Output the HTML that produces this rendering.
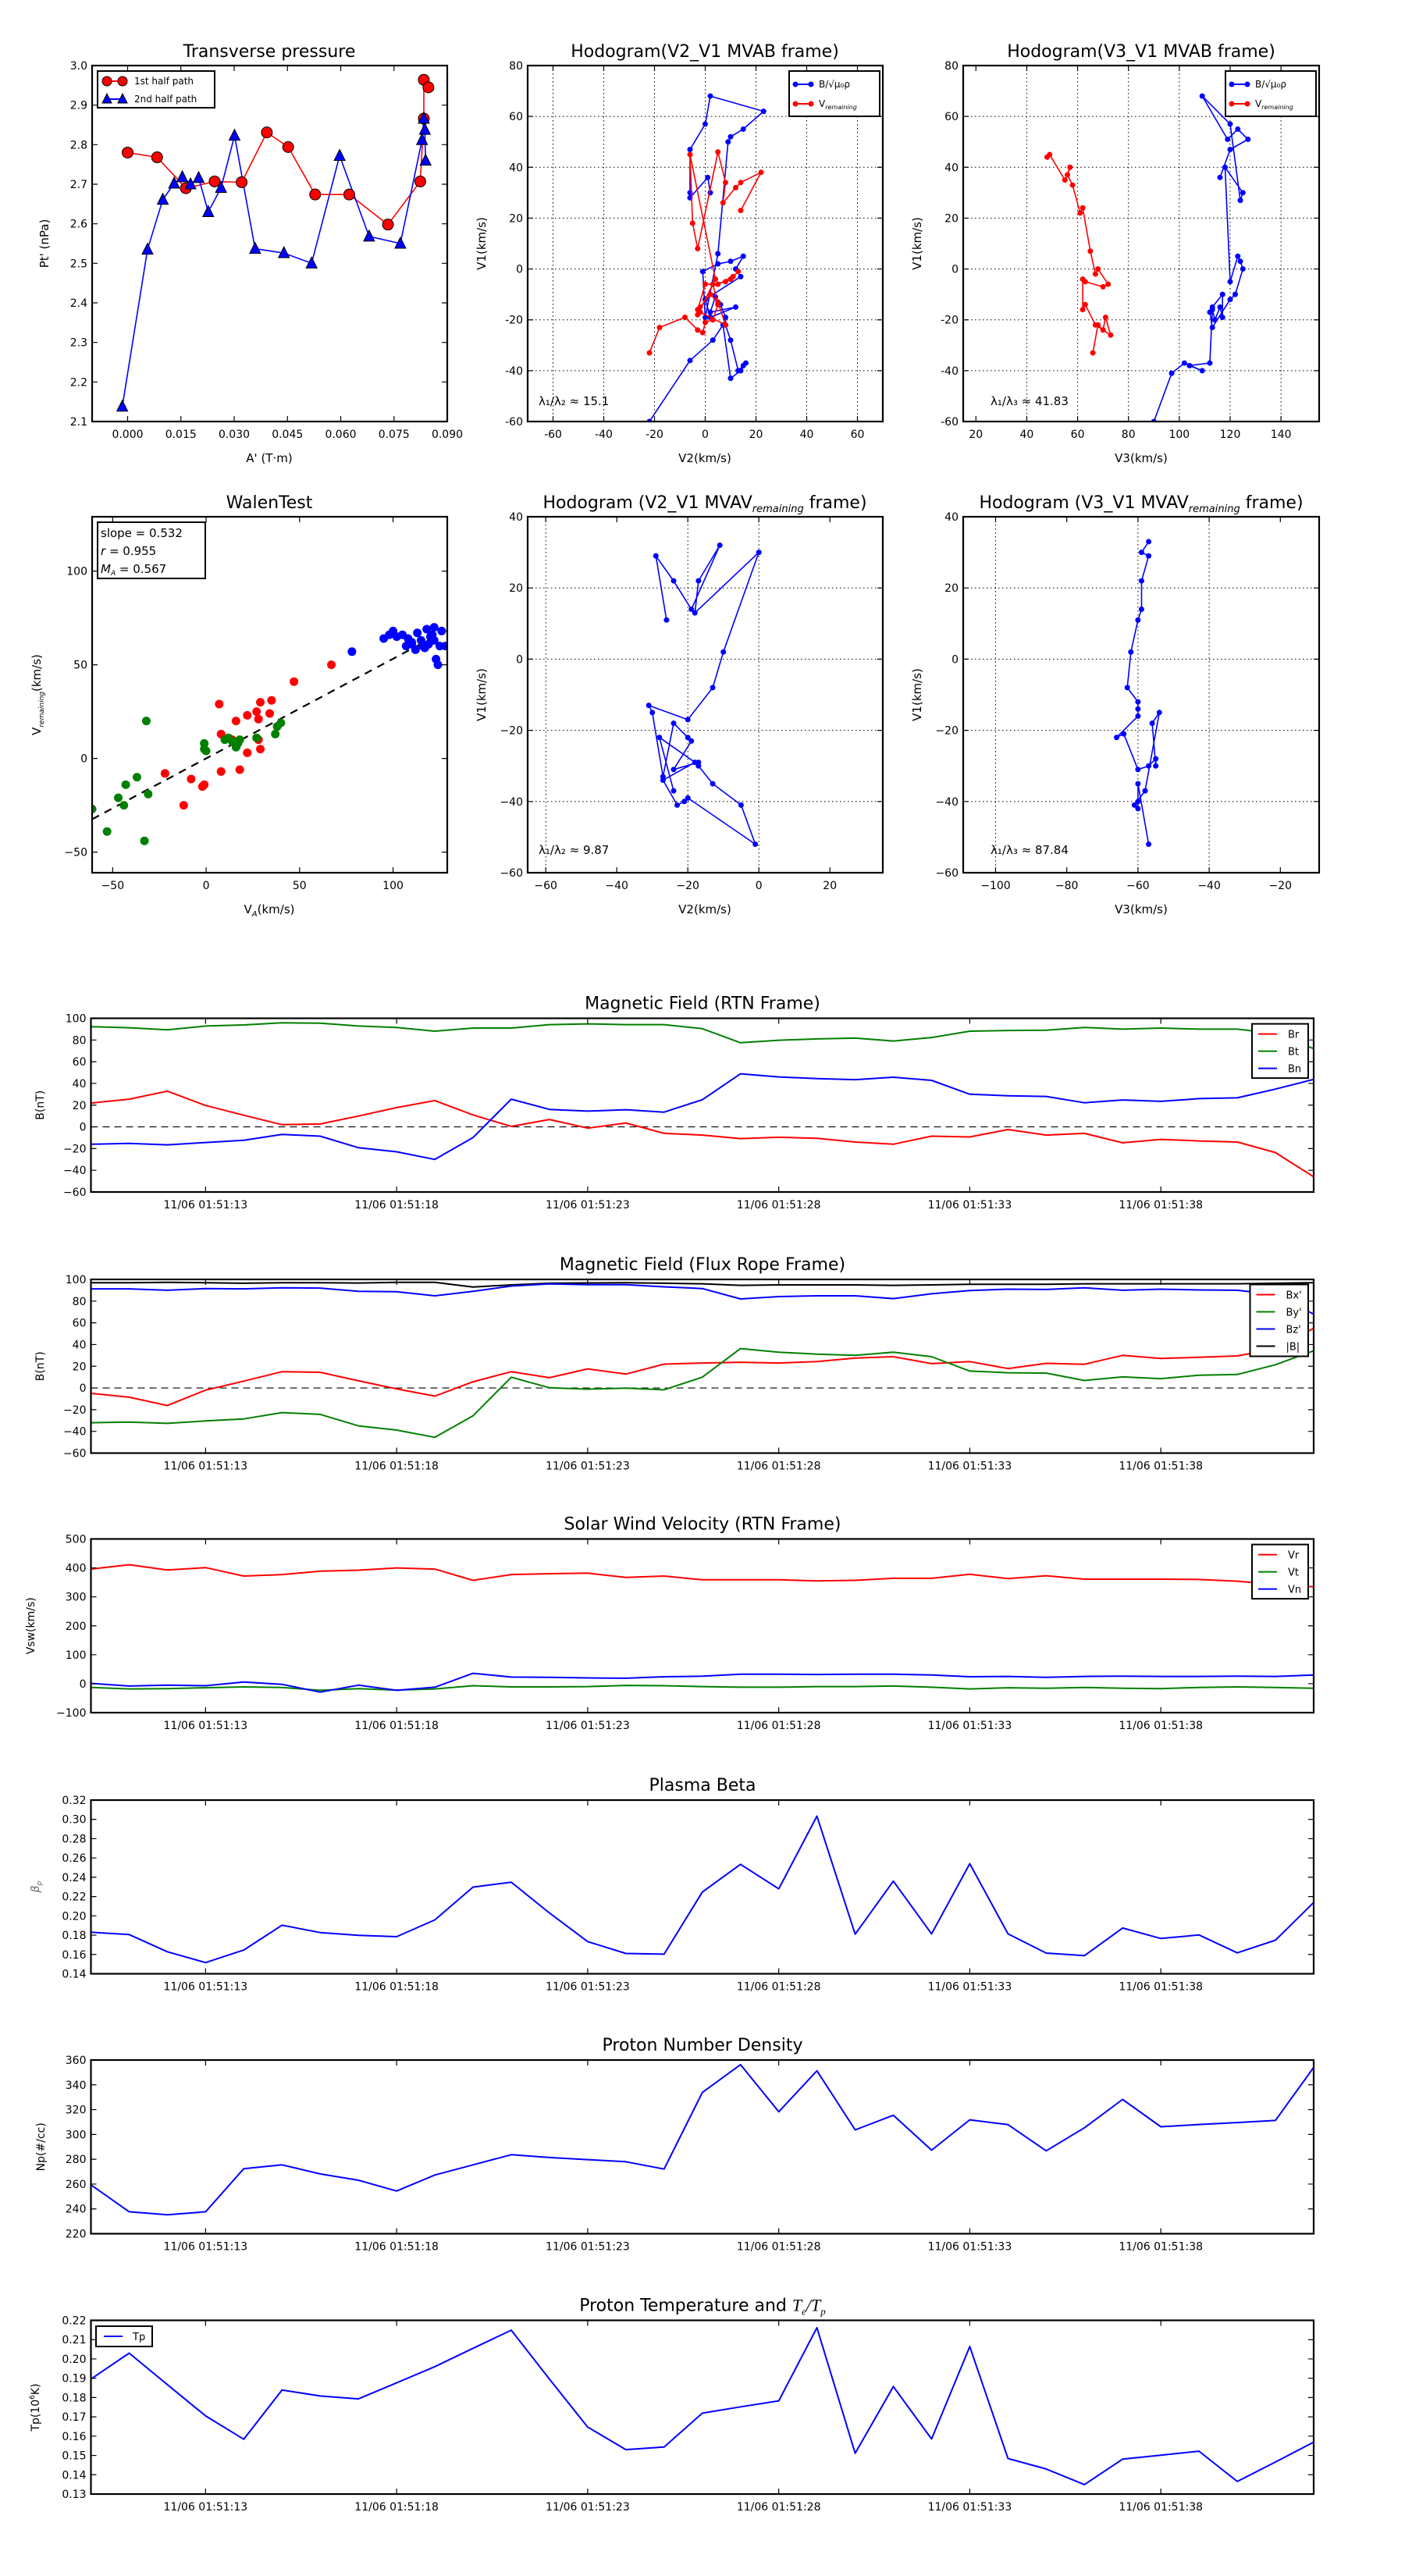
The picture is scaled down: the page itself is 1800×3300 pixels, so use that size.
<!DOCTYPE html>
<html><head><meta charset="utf-8"><title>Flux rope analysis</title>
<style>
html,body{margin:0;padding:0;background:#fff;}
svg{display:block;font-family:"DejaVu Sans","Liberation Sans",sans-serif;}
</style></head>
<body>
<svg id="fig" width="1800" height="3300" viewBox="0 0 1800 3300" xmlns="http://www.w3.org/2000/svg"></svg>
<script>
// ---------- Transverse pressure ----------
const tp1A = [0,0.0083,0.0164,0.0245,0.0321,0.0392,0.0452,0.0528,0.0624,0.0733,0.0824,0.0834,0.0834,0.0847];
const tp1P = [2.780,2.768,2.690,2.707,2.705,2.831,2.794,2.674,2.674,2.598,2.707,2.866,2.964,2.945];
const tp2A = [-0.0015,0.0056,0.0099,0.0131,0.0154,0.0177,0.0200,0.0227,0.0263,0.0301,0.0359,0.0440,0.0518,0.0597,0.0680,0.0768,0.0829,0.0834,0.0837,0.0839];
const tp2P = [2.138,2.535,2.661,2.702,2.718,2.700,2.716,2.630,2.691,2.823,2.537,2.526,2.500,2.772,2.568,2.550,2.812,2.866,2.838,2.760];
const tpXTicks = [0.000,0.015,0.030,0.045,0.060,0.075,0.090];
const tpYTicks = [2.1,2.2,2.3,2.4,2.5,2.6,2.7,2.8,2.9,3.0];
// ---------- Hodogram V2-V1 MVAB ----------
const h1BV2 = [-22,-6,3,7,10,14,16,15,13,10,8,8,6,4,2,12,2,0,14,12,15,10,5,-1,0,5,9,10,15,23,2,0,-6,-6,-6,1,2];
const h1BV1 = [-60,-36,-28,-22,-43,-40,-37,-38,-40,-28,-22,-19,-14,-11,-17,-15,-19,-12,-3,0,5,3,2,-1,-19,6,50,52,55,62,68,57,47,30,28,36,30];
const h1VV2 = [-22,-18,-8,-3,-1,0,3,5,3,8,10,13,11,5,0,-3,-2,2,5,8,-2,-3,4,-6,-5,-3,5,8,7,12,14,22,14];
const h1VV1 = [-33,-23,-19,-24,-25,-21,-20,-14,-6,-5,-4,-1,-3,-6,-6,-16,-15,-10,-13,-22,-17,-18,-4,45,18,8,46,34,26,32,34,38,23];
// ---------- Hodogram V3-V1 MVAB ----------
const h2BV3 = [90,97,102,109,104,112,113,114,116,117,117,113,112,113,120,122,125,124,123,120,118,125,124,120,109,119,123,127,120,116];
const h2BV1 = [-60,-41,-37,-40,-38,-37,-16,-20,-15,-19,-10,-15,-17,-23,-12,-10,0,3,5,-5,40,30,27,57,68,51,55,51,47,36];
const h2VV3 = [66,68,70,71,73,67,63,62,62,63,70,72,68,67,65,62,61,58,56,57,55,49,48];
const h2VV1 = [-33,-22,-24,-19,-26,-22,-14,-16,-4,-5,-7,-6,0,-2,7,24,22,33,37,40,35,45,44];
// ---------- Walen test ----------
const wBlueX = [95,98,100,102,105,107,108,110,112,113,115,116,118,119,120,121,122,123,124,125,126,128,110,117,122,78];
const wBlueY = [64,66,68,65,66,60,64,62,58,67,63,60,69,61,65,66,70,53,50,60,68,60,61,59,63,57];
const wRedX = [67,47,29,35,7,27,34,22,16,28,8,28,14,29,22,8,18,-8,-2,-1,-22,-12];
const wRedY = [50,41,30,31,29,25,24,23,20,21,13,10,10,5,3,-7,-6,-11,-15,-14,-8,-25];
const wGreenX = [-1,-1,0,10,12,14,17,18,16,38,40,37,27,-32,-37,-43,-47,-44,-31,-53,-33,-61];
const wGreenY = [8,5,4,10,11,9,8,10,6,17,19,13,11,20,-10,-14,-21,-25,-19,-39,-44,-27];
const wSlope = 0.532;
// ---------- Hodogram row 2 ----------
const h3V2 = [-26,-29,-24,-19,-11,-17,-18,0,-10,-13,-20,-31,-30,-27,-24,-20,-19,-24,-17,-17,-13,-5,-1,-20,-21,-23,-27,-18,-28,-24];
const h3V1 = [11,29,22,14,32,22,13,30,2,-8,-17,-13,-15,-33,-18,-22,-23,-31,-29,-30,-35,-41,-52,-39,-40,-41,-34,-29,-22,-37];
const h4V3 = [-57,-59,-57,-59,-59,-60,-62,-63,-60,-60,-60,-66,-64,-60,-57,-55,-55,-56,-54,-58,-61,-60,-60,-60,-57];
const h4V1 = [33,30,29,22,14,11,2,-8,-12,-14,-16,-22,-21,-31,-30,-28,-30,-18,-15,-37,-41,-42,-40,-35,-52];
// ---------- Time series (1 s cadence, 01:51:10 .. 01:51:42) ----------
const tSec = [10,11,12,13,14,15,16,17,18,19,20,21,22,23,24,25,26,27,28,29,30,31,32,33,34,35,36,37,38,39,40,41,42];
const timeTicks = [13,18,23,28,33,38];
const Br = [21.9,25.5,32.9,19.7,10.7,2,2.6,10,17.7,24.2,11,0.4,6.8,-1.2,3.6,-6,-7.6,-10.8,-9.6,-10.5,-14,-16,-8.6,-9.3,-2.5,-7.6,-6,-14.7,-11.5,-13,-14,-23.7,-46];
const Bt = [92.3,91.3,89.4,92.9,93.9,95.8,95.5,92.9,91.6,88.1,91,91,94.2,94.9,94.2,94.2,90.4,77.5,79.8,81,81.7,79.1,82.3,88.1,88.8,89.1,91.6,90,91,90,90,86,72];
const Bn = [-16,-15.3,-16.6,-14.4,-12.4,-7,-8.6,-19.2,-23,-30,-9.9,25.5,16.1,14.5,15.8,13.6,25,48.9,46,44.4,43.5,45.7,42.8,30,28.7,28,22.2,24.8,23.5,26,26.7,34.8,43.8];
const Bx = [-5,-8.5,-16.2,-2,6.3,15,14.4,6.6,-0.8,-7.5,5.7,15,9.5,17.6,12.8,22,23,23.7,23,24.3,27.6,28.8,22.4,24.3,17.9,22.7,21.8,30,27.2,28.2,29.5,36,55];
const By = [-32,-31.4,-32.6,-30.4,-28.5,-22.7,-24.3,-34.9,-38.8,-45.5,-25.6,9.9,0.2,-1.1,-0.1,-1.7,10,36.3,33,31.1,30.1,33,28.8,15.6,14,13.7,6.9,10.2,8.6,11.8,12.4,21.4,34.3];
const Bz = [91.3,91.3,90,91.6,91.3,92.3,92,89,88.7,84.9,89,93.9,95.8,95.2,95.2,93.2,91.6,82,84.2,84.9,84.9,82.3,86.8,89.7,91,90.7,92.3,90,91,90.3,90,86,68];
const Bmag = [97,97,97.3,97,96.5,97,97,96.7,97.3,97.3,93,95,96.5,96.8,97,96.5,96,94.5,95,95,95,94.5,95,95.5,95.5,95.5,96,96,96,96,96,96.5,97];
const Vr = [396,411,393,401,372,377,389,392,400,396,357,377,380,382,367,372,359,359,359,355,357,364,364,378,363,373,361,361,361,360,354,343,335];
const Vt = [-13,-18,-17,-14,-11,-13,-23,-17,-22,-18,-7,-11,-11,-10,-6,-7,-10,-12,-12,-10,-10,-8,-12,-18,-14,-16,-13,-16,-17,-13,-11,-13,-16];
const Vn = [1,-8,-5,-7,6,-2,-29,-5,-23,-12,36,23,22,20,19,24,26,33,33,32,33,33,30,24,25,22,25,26,25,25,26,25,30];
const beta = [0.183,0.1806,0.1628,0.1516,0.1646,0.1903,0.1827,0.1798,0.1784,0.1958,0.2298,0.2349,0.203,0.1733,0.161,0.1603,0.2247,0.2534,0.228,0.3033,0.181,0.236,0.1813,0.2541,0.1813,0.1614,0.1588,0.1874,0.1766,0.1802,0.1617,0.1748,0.2139];
const Np = [259.4,237.7,235.2,237.7,272.4,275.5,268.2,263.1,254.4,267.3,275.5,283.7,281.4,279.7,278,272.1,333.8,356.3,318.3,351.3,303.7,315.5,287.3,311.8,307.9,286.8,305.4,328.2,306.2,308,309.6,311.3,354];
const Tp = [0.1896,0.203,0.1867,0.1705,0.1584,0.1839,0.1808,0.1793,0.1876,0.196,0.2055,0.2149,0.1896,0.1647,0.153,0.1544,0.1719,0.1752,0.1783,0.2162,0.1511,0.1857,0.1585,0.2064,0.1484,0.143,0.1349,0.1481,0.1501,0.1522,0.1365,0.1466,0.1569];

const NS = 'http://www.w3.org/2000/svg';
const svg = document.getElementById('fig');
function mk(tag, attrs, parent) {
  const e = document.createElementNS(NS, tag);
  for (const k in attrs) e.setAttribute(k, attrs[k]);
  (parent || svg).appendChild(e);
  return e;
}
function txt(x, y, s, size, anchor, name, parent, extra) {
  const e = mk('text', Object.assign({x: x, y: y, 'font-size': size, 'text-anchor': anchor || 'middle', fill: '#000'}, extra || {}), parent);
  e.textContent = s;
  
  
  return e;
}
function makeAx(x0, x1, y0, y1, xmin, xmax, ymin, ymax) {
  return {x0, x1, y0, y1, sx: v => x0 + (v - xmin) / (xmax - xmin) * (x1 - x0), sy: v => y1 - (v - ymin) / (ymax - ymin) * (y1 - y0)};
}
function frame(ax, name) {
  const r = mk('rect', {x: ax.x0, y: ax.y0, width: ax.x1 - ax.x0, height: ax.y1 - ax.y0, fill: 'none', stroke: '#000', 'stroke-width': 2.2});
  
  
}
function ticksX(ax, vals, labels, name, size, ly) {
  vals.forEach((v, i) => {
    const x = ax.sx(v);
    const t = mk('path', {d: `M${x},${ax.y1}v-7M${x},${ax.y0}v7`, stroke: '#000', 'stroke-width': 1.2});
    
    
    txt(x, ly !== undefined ? ly : ax.y1 + 22, labels[i], size, 'middle', name + '-xtick-label');
  });
}
function ticksY(ax, vals, labels, name, size) {
  vals.forEach((v, i) => {
    const y = ax.sy(v);
    const t = mk('path', {d: `M${ax.x0},${y}h7M${ax.x1},${y}h-7`, stroke: '#000', 'stroke-width': 1.2});
    
    
    txt(ax.x0 - 6, y + 5, labels[i], size, 'end', name + '-ytick-label');
  });
}
function gridX(ax, vals, name) {
  vals.forEach(v => {
    const g = mk('line', {x1: ax.sx(v), x2: ax.sx(v), y1: ax.y0, y2: ax.y1, stroke: '#000', 'stroke-width': 1, 'stroke-dasharray': '1.5,3.5'});
    
    
  });
}
function gridY(ax, vals, name) {
  vals.forEach(v => {
    const g = mk('line', {x1: ax.x0, x2: ax.x1, y1: ax.sy(v), y2: ax.sy(v), stroke: '#000', 'stroke-width': 1, 'stroke-dasharray': '1.5,3.5'});
    
    
  });
}
function series(ax, xs, ys, color, name, width, clip) {
  const pts = xs.map((x, i) => ax.sx(x).toFixed(1) + ',' + ax.sy(ys[i]).toFixed(1)).join(' ');
  const p = mk('polyline', {points: pts, fill: 'none', stroke: color, 'stroke-width': width || 2, 'stroke-linejoin': 'round', 'clip-path': clip ? `url(#${clip})` : ''});
  
  
}
function dots(ax, xs, ys, color, name, r, clip) {
  xs.forEach((x, i) => {
    const c = mk('circle', {cx: ax.sx(x), cy: ax.sy(ys[i]), r: r, fill: color, stroke: color === 'red' || color === '#ff0000' ? '#000' : color, 'stroke-width': 0, 'clip-path': clip ? `url(#${clip})` : ''});
    
    
  });
}
function clipFor(ax, id) {
  let defs = svg.querySelector('defs');
  if (!defs) { defs = mk('defs', {}); }
  const cp = mk('clipPath', {id: id}, defs);
  mk('rect', {x: ax.x0, y: ax.y0, width: ax.x1 - ax.x0, height: ax.y1 - ax.y0}, cp);
}
function ylab(x, y, s, name, size) {
  const e = txt(x, y, s, size || 15, 'middle', name, svg, {transform: `rotate(-90 ${x} ${y})`});
  return e;
}
const FS = 14;

// ===== Panel 1: Transverse pressure =====
(function () {
  const ax = makeAx(118, 573, 84, 540, -0.01, 0.09, 2.1, 3.0);
  clipFor(ax, 'c1');
  txt(345, 73, 'Transverse pressure', 22, 'middle', 'transverse-pressure-title');
  series(ax, tp1A, tp1P, 'red', 'first-half-path-line', 1.6, 'c1');
  series(ax, tp2A, tp2P, 'blue', 'second-half-path-line', 1.6, 'c1');
  tp1A.forEach((a, i) => {
    const c = mk('circle', {cx: ax.sx(a), cy: ax.sy(tp1P[i]), r: 7, fill: 'red', stroke: '#000', 'stroke-width': 1});
    
    
  });
  tp2A.forEach((a, i) => {
    const x = ax.sx(a), y = ax.sy(tp2P[i]);
    const t = mk('polygon', {points: `${x},${y - 8} ${x - 7},${y + 6} ${x + 7},${y + 6}`, fill: 'blue', stroke: '#000', 'stroke-width': 1});
    
    
  });
  frame(ax, 'transverse-pressure');
  ticksX(ax, tpXTicks, tpXTicks.map(v => v.toFixed(3)), 'transverse-pressure', FS, 561);
  ticksY(ax, tpYTicks, tpYTicks.map(v => v.toFixed(1)), 'transverse-pressure', FS);
  txt(345, 592, "A' (T·m)", 15, 'middle', 'transverse-pressure-x-axis-title');
  ylab(62, 312, "Pt' (nPa)", 'transverse-pressure-y-axis-title');
  const lg = mk('rect', {x: 125, y: 91, width: 150, height: 47, fill: '#fff', stroke: '#000', 'stroke-width': 2});
  
  
  const l1 = mk('path', {d: 'M137,104h20', stroke: 'red', 'stroke-width': 2});
  
  
  [137, 157].forEach(x => { const c = mk('circle', {cx: x, cy: 104, r: 6, fill: 'red', stroke: '#000', 'stroke-width': 1});   });
  txt(172, 108, '1st half path', 12, 'start', 'legend-first-half-label');
  const l2 = mk('path', {d: 'M137,127h20', stroke: 'blue', 'stroke-width': 2});
  
  
  [137, 157].forEach(x => { const t = mk('polygon', {points: `${x},${120} ${x - 6},${132} ${x + 6},${132}`, fill: 'blue', stroke: '#000', 'stroke-width': 1});   });
  txt(172, 131, '2nd half path', 12, 'start', 'legend-second-half-label');
})();

function hodoLegend(x0, y0, name) {
  const lg = mk('rect', {x: x0, y: y0, width: 116, height: 58, fill: '#fff', stroke: '#000', 'stroke-width': 2});
  
  
  const a = mk('path', {d: `M${x0 + 8},${y0 + 17}h20`, stroke: 'blue', 'stroke-width': 2});
  
  
  [x0 + 8, x0 + 28].forEach(x => { const c = mk('circle', {cx: x, cy: y0 + 17, r: 3.5, fill: 'blue'});   });
  txt(x0 + 38, y0 + 21, 'B/√μ₀ρ', 12, 'start', name + '-b-label');
  const b = mk('path', {d: `M${x0 + 8},${y0 + 42}h20`, stroke: 'red', 'stroke-width': 2});
  
  
  [x0 + 8, x0 + 28].forEach(x => { const c = mk('circle', {cx: x, cy: y0 + 42, r: 3.5, fill: 'red'});   });
  const t = txt(x0 + 38, y0 + 46, 'V', 12, 'start', name + '-v-label');
  const s = mk('tspan', {'font-size': 8, dy: 3, 'font-style': 'italic'}, t);
  s.textContent = 'remaining';
}
function ticks10(a, b, s) { const r = []; for (let v = a; v <= b + 1e-9; v += s) r.push(Math.round(v * 100) / 100); return r; }

// ===== Panel 2: Hodogram V2_V1 MVAB =====
(function () {
  const ax = makeAx(676, 1131, 84, 540, -70, 70, -60, 80);
  clipFor(ax, 'c2');
  txt(903, 73, 'Hodogram(V2_V1 MVAB frame)', 22, 'middle', 'hodogram-v2v1-mvab-title');
  gridX(ax, [-60, -40, -20, 0, 20, 40, 60], 'hodogram-v2v1-mvab');
  gridY(ax, [60, 40, 20, 0, -20, -40], 'hodogram-v2v1-mvab');
  series(ax, h1BV2, h1BV1, 'blue', 'hodogram-v2v1-b-line', 1.6, 'c2');
  dots(ax, h1BV2, h1BV1, 'blue', 'hodogram-v2v1-b-point', 3.5, 'c2');
  series(ax, h1VV2, h1VV1, 'red', 'hodogram-v2v1-v-line', 1.6, 'c2');
  dots(ax, h1VV2, h1VV1, 'red', 'hodogram-v2v1-v-point', 3.5, 'c2');
  frame(ax, 'hodogram-v2v1-mvab');
  const xt = ticks10(-60, 60, 20), yt = ticks10(-60, 80, 20);
  ticksX(ax, xt, xt.map(String), 'hodogram-v2v1-mvab', FS, 561);
  ticksY(ax, yt, yt.map(String), 'hodogram-v2v1-mvab', FS);
  txt(903, 592, 'V2(km/s)', 15, 'middle', 'hodogram-v2v1-mvab-x-axis-title');
  ylab(622, 312, 'V1(km/s)', 'hodogram-v2v1-mvab-y-axis-title');
  hodoLegend(1011, 91, 'hodogram-v2v1-mvab-legend');
  txt(690, 519, 'λ₁/λ₂ ≈ 15.1', 15, 'start', 'hodogram-v2v1-mvab-eigen-ratio');
})();

// ===== Panel 3: Hodogram V3_V1 MVAB =====
(function () {
  const ax = makeAx(1234, 1690, 84, 540, 15, 155, -60, 80);
  clipFor(ax, 'c3');
  txt(1462, 73, 'Hodogram(V3_V1 MVAB frame)', 22, 'middle', 'hodogram-v3v1-mvab-title');
  gridX(ax, [40, 60, 80, 100, 120, 140], 'hodogram-v3v1-mvab');
  gridY(ax, [60, 40, 20, 0, -20, -40], 'hodogram-v3v1-mvab');
  series(ax, h2BV3, h2BV1, 'blue', 'hodogram-v3v1-b-line', 1.6, 'c3');
  dots(ax, h2BV3, h2BV1, 'blue', 'hodogram-v3v1-b-point', 3.5, 'c3');
  series(ax, h2VV3, h2VV1, 'red', 'hodogram-v3v1-v-line', 1.6, 'c3');
  dots(ax, h2VV3, h2VV1, 'red', 'hodogram-v3v1-v-point', 3.5, 'c3');
  frame(ax, 'hodogram-v3v1-mvab');
  const xt = ticks10(20, 140, 20), yt = ticks10(-60, 80, 20);
  ticksX(ax, xt, xt.map(String), 'hodogram-v3v1-mvab', FS, 561);
  ticksY(ax, yt, yt.map(String), 'hodogram-v3v1-mvab', FS);
  txt(1462, 592, 'V3(km/s)', 15, 'middle', 'hodogram-v3v1-mvab-x-axis-title');
  ylab(1180, 312, 'V1(km/s)', 'hodogram-v3v1-mvab-y-axis-title');
  hodoLegend(1570, 91, 'hodogram-v3v1-mvab-legend');
  txt(1269, 519, 'λ₁/λ₃ ≈ 41.83', 15, 'start', 'hodogram-v3v1-mvab-eigen-ratio');
})();

// ===== Panel 4: Walen test =====
(function () {
  const ax = makeAx(118, 573, 662, 1118, -61, 129, -61, 129);
  clipFor(ax, 'c4');
  txt(345, 651, 'WalenTest', 22, 'middle', 'walen-test-title');
  const d = mk('line', {x1: ax.sx(-61), y1: ax.sy(-61 * wSlope), x2: ax.sx(129), y2: ax.sy(129 * wSlope), stroke: '#000', 'stroke-width': 2.2, 'stroke-dasharray': '10,8', 'clip-path': 'url(#c4)'});
  
  
  dots(ax, wBlueX, wBlueY, 'blue', 'walen-blue-point', 5.5, 'c4');
  dots(ax, wRedX, wRedY, 'red', 'walen-red-point', 5.5, 'c4');
  dots(ax, wGreenX, wGreenY, 'green', 'walen-green-point', 5.5, 'c4');
  frame(ax, 'walen-test');
  ticksX(ax, [-50, 0, 50, 100], ['−50', '0', '50', '100'], 'walen-test', FS, 1139);
  ticksY(ax, [-50, 0, 50, 100], ['−50', '0', '50', '100'], 'walen-test', FS);
  const xl = txt(345, 1170, 'V', 15, 'middle', 'walen-x-axis-title');
  const s1 = mk('tspan', {'font-size': 10, dy: 4, 'font-style': 'italic'}, xl); s1.textContent = 'A';
  const s2 = mk('tspan', {dy: -4}, xl); s2.textContent = '(km/s)';
  const yl = ylab(52, 890, 'V', 'walen-y-axis-title');
  const s3 = mk('tspan', {'font-size': 9, dy: 4, 'font-style': 'italic'}, yl); s3.textContent = 'remaining';
  const s4 = mk('tspan', {dy: -4}, yl); s4.textContent = '(km/s)';
  const b = mk('rect', {x: 125, y: 669, width: 138, height: 72, fill: '#fff', stroke: '#000', 'stroke-width': 2});
  
  
  txt(129, 688, 'slope = 0.532', 15, 'start', 'walen-slope-label');
  const r = txt(129, 711, 'r', 15, 'start', 'walen-r-label', svg, {'font-style': 'italic'});
  const rs = mk('tspan', {'font-style': 'normal'}, r); rs.textContent = ' = 0.955';
  const m = txt(129, 734, 'M', 15, 'start', 'walen-ma-label', svg, {'font-style': 'italic'});
  const ms = mk('tspan', {'font-size': 9, dy: 3}, m); ms.textContent = 'A';
  const ms2 = mk('tspan', {'font-style': 'normal', dy: -3}, m); ms2.textContent = ' = 0.567';
})();

function rowTitle(x, y, pre, name) {
  const t = txt(x, y, pre, 22, 'middle', name);
  const s = mk('tspan', {'font-size': 13, dy: 5, 'font-style': 'italic'}, t); s.textContent = 'remaining';
  const s2 = mk('tspan', {dy: -5}, t); s2.textContent = ' frame)';
}
// ===== Panel 5: Hodogram V2_V1 MVAV =====
(function () {
  const ax = makeAx(676, 1131, 662, 1118, -65.1, 34.9, -60, 40);
  clipFor(ax, 'c5');
  rowTitle(903, 651, 'Hodogram (V2_V1 MVAV', 'hodogram-v2v1-mvav-title');
  gridX(ax, [-60, -20, 0], 'hodogram-v2v1-mvav');
  gridY(ax, [20, 0, -20, -40], 'hodogram-v2v1-mvav');
  series(ax, h3V2, h3V1, 'blue', 'hodogram-v2v1-mvav-line', 1.6, 'c5');
  dots(ax, h3V2, h3V1, 'blue', 'hodogram-v2v1-mvav-point', 3.5, 'c5');
  frame(ax, 'hodogram-v2v1-mvav');
  ticksX(ax, [-60, -40, -20, 0, 20], ['−60', '−40', '−20', '0', '20'], 'hodogram-v2v1-mvav', FS, 1139);
  ticksY(ax, [-60, -40, -20, 0, 20, 40], ['−60', '−40', '−20', '0', '20', '40'], 'hodogram-v2v1-mvav', FS);
  txt(903, 1170, 'V2(km/s)', 15, 'middle', 'hodogram-v2v1-mvav-x-axis-title');
  ylab(622, 890, 'V1(km/s)', 'hodogram-v2v1-mvav-y-axis-title');
  txt(690, 1094, 'λ₁/λ₂ ≈ 9.87', 15, 'start', 'hodogram-v2v1-mvav-eigen-ratio');
})();
// ===== Panel 6: Hodogram V3_V1 MVAV =====
(function () {
  const ax = makeAx(1234, 1690, 662, 1118, -109.1, -9.1, -60, 40);
  clipFor(ax, 'c6');
  rowTitle(1462, 651, 'Hodogram (V3_V1 MVAV', 'hodogram-v3v1-mvav-title');
  gridX(ax, [-100, -60, -40], 'hodogram-v3v1-mvav');
  gridY(ax, [20, 0, -20, -40], 'hodogram-v3v1-mvav');
  series(ax, h4V3, h4V1, 'blue', 'hodogram-v3v1-mvav-line', 1.6, 'c6');
  dots(ax, h4V3, h4V1, 'blue', 'hodogram-v3v1-mvav-point', 3.5, 'c6');
  frame(ax, 'hodogram-v3v1-mvav');
  ticksX(ax, [-100, -80, -60, -40, -20], ['−100', '−80', '−60', '−40', '−20'], 'hodogram-v3v1-mvav', FS, 1139);
  ticksY(ax, [-60, -40, -20, 0, 20, 40], ['−60', '−40', '−20', '0', '20', '40'], 'hodogram-v3v1-mvav', FS);
  txt(1462, 1170, 'V3(km/s)', 15, 'middle', 'hodogram-v3v1-mvav-x-axis-title');
  ylab(1180, 890, 'V1(km/s)', 'hodogram-v3v1-mvav-y-axis-title');
  txt(1269, 1094, 'λ₁/λ₃ ≈ 87.84', 15, 'start', 'hodogram-v3v1-mvav-eigen-ratio');
})();

// ===== Time series panels =====
const TX0 = 116.5, TX1 = 1683, TH = 222.5;
function tsLegend(x, y, w, entries, name) {
  const h = entries.length * 22.5 + 2;
  const r = mk('rect', {x: x, y: y, width: w, height: h, fill: '#fff', stroke: '#000', 'stroke-width': 2});
  
  
  entries.forEach((e, i) => {
    const yy = y + 13 + i * 22;
    const l = mk('path', {d: `M${x + 8},${yy}h24`, stroke: e[1], 'stroke-width': 2});
    
    
    txt(x + 46, yy + 5, e[0], 13, 'start', name + '-label');
  });
}
function tsPanel(top, title, ymin, ymax, yticks, fmt, lines, ylabel, ylx, name, zero) {
  const ax = makeAx(TX0, TX1, top, top + TH, 10, 42, ymin, ymax);
  const id = 'cl-' + name;
  clipFor(ax, id);
  txt(900, top - 12, title, 22, 'middle', name + '-title');
  if (zero) {
    const z = mk('line', {x1: TX0, x2: TX1, y1: ax.sy(0), y2: ax.sy(0), stroke: '#000', 'stroke-width': 1.2, 'stroke-dasharray': '9,6'});
    
    
  }
  lines.forEach(l => series(ax, tSec, l[0], l[1], name + '-' + l[2] + '-line', 2, id));
  frame(ax, name);
  ticksX(ax, timeTicks, timeTicks.map(s => '11/06 01:51:' + s), name, FS, top + TH + 21);
  ticksY(ax, yticks, yticks.map(fmt), name, FS);
  if (ylabel) ylab(ylx, top + TH / 2, ylabel, name + '-y-axis-title', 14);
  return ax;
}
const intFmt = v => (v < 0 ? '−' : '') + Math.abs(v);
tsPanel(1304.5, 'Magnetic Field (RTN Frame)', -60, 100, ticks10(-60, 100, 20), intFmt,
  [[Br, 'red', 'br'], [Bt, 'green', 'bt'], [Bn, 'blue', 'bn']], 'B(nT)', 56, 'magnetic-field-rtn', true);
tsLegend(1604, 1311.6, 72, [['Br', 'red'], ['Bt', 'green'], ['Bn', 'blue']], 'magnetic-field-rtn-legend');

tsPanel(1639, 'Magnetic Field (Flux Rope Frame)', -60, 100, ticks10(-60, 100, 20), intFmt,
  [[Bmag, 'black', 'bmag'], [Bz, 'blue', 'bz'], [Bx, 'red', 'bx'], [By, 'green', 'by']], 'B(nT)', 56, 'magnetic-field-flux-rope', true);
tsLegend(1601.5, 1645.5, 74.5, [["Bx'", 'red'], ["By'", 'green'], ["Bz'", 'blue'], ['|B|', 'black']], 'magnetic-field-flux-rope-legend');

tsPanel(1971.5, 'Solar Wind Velocity (RTN Frame)', -100, 500, ticks10(-100, 500, 100), intFmt,
  [[Vr, 'red', 'vr'], [Vt, 'green', 'vt'], [Vn, 'blue', 'vn']], 'Vsw(km/s)', 44, 'solar-wind-velocity');
tsLegend(1604, 1978.6, 72, [['Vr', 'red'], ['Vt', 'green'], ['Vn', 'blue']], 'solar-wind-velocity-legend');

tsPanel(2306, 'Plasma Beta', 0.14, 0.32, ticks10(0.14, 0.32, 0.02), v => v.toFixed(2),
  [[beta, 'blue', 'beta']], null, 0, 'plasma-beta');
(function () {
  const t = txt(50, 2417, 'β', 14, 'middle', 'plasma-beta-y-axis-title', svg, {transform: 'rotate(-90 50 2417)', fill: '#666', 'font-style': 'italic'});
  const s = mk('tspan', {'font-size': 9, dy: 3}, t); s.textContent = 'p';
})();

tsPanel(2639, 'Proton Number Density', 220, 360, ticks10(220, 360, 20), v => String(v),
  [[Np, 'blue', 'np']], 'Np(#/cc)', 57, 'proton-number-density');

(function () {
  tsPanel(2972.5, '', 0.13, 0.22, ticks10(0.13, 0.22, 0.01), v => v.toFixed(2),
    [[Tp, 'blue', 'tp']], null, 0, 'proton-temperature');
  const t = txt(900, 2960.5, 'Proton Temperature and ', 22, 'middle', 'proton-temperature-title');
  const a = mk('tspan', {'font-style': 'italic', 'font-family': 'Liberation Serif, serif'}, t); a.textContent = 'T';
  const b = mk('tspan', {'font-size': 13, dy: 5, 'font-style': 'italic', 'font-family': 'Liberation Serif, serif'}, t); b.textContent = 'e';
  const c = mk('tspan', {dy: -5, 'font-style': 'italic', 'font-family': 'Liberation Serif, serif'}, t); c.textContent = '/T';
  const d = mk('tspan', {'font-size': 13, dy: 5, 'font-style': 'italic', 'font-family': 'Liberation Serif, serif'}, t); d.textContent = 'p';
  const yl = ylab(50, 3084, 'Tp(10', 'proton-temperature-y-axis-title', 14);
  const e = mk('tspan', {'font-size': 9, dy: -6}, yl); e.textContent = '6';
  const f = mk('tspan', {dy: 6}, yl); f.textContent = 'K)';
  const r = mk('rect', {x: 123, y: 2980, width: 72, height: 26, fill: '#fff', stroke: '#000', 'stroke-width': 2});
  
  
  const l = mk('path', {d: 'M133,2993h24', stroke: 'blue', 'stroke-width': 2});
  
  
  txt(170, 2998, 'Tp', 13, 'start', 'proton-temperature-legend-label');
})();
</script>
</body></html>
